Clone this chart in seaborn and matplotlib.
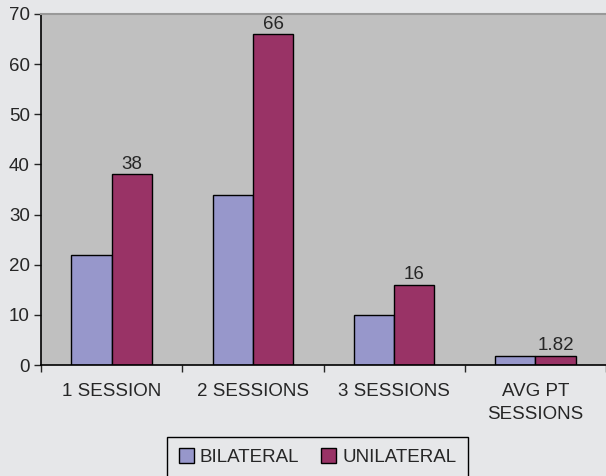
import matplotlib
matplotlib.use("Agg")
import matplotlib.pyplot as plt
import matplotlib.patches as mpatches
import seaborn as sns
import pandas as pd
from matplotlib.ticker import FixedLocator

categories = ["1 SESSION", "2 SESSIONS", "3 SESSIONS", "AVG PT\nSESSIONS"]
groups = ["BILATERAL", "UNILATERAL"]
bilateral = [22, 34, 10, 1.75]
unilateral = [38, 66, 16, 1.82]
colors = ["#9797CB", "#993366"]

df = pd.DataFrame({
    "category": categories * 2,
    "value": bilateral + unilateral,
    "group": [groups[0]] * len(categories) + [groups[1]] * len(categories),
})

sns.set_style("ticks")
plt.rcParams["font.family"] = ["Liberation Sans", "DejaVu Sans"]
FS = 13.5
W, H = 606, 476

fig = plt.figure(figsize=(W / 100, H / 100), dpi=100, facecolor="#E6E7E9")
ax = fig.add_axes([41 / W, 1 - 365 / H, 1 - 41 / W, (365 - 14) / H])
ax.set_facecolor("#C0C0C0")

sns.barplot(data=df, x="category", y="value", hue="group", order=categories,
            hue_order=groups, palette=colors, width=0.57, edgecolor="black",
            linewidth=1, saturation=1, ax=ax, legend=True)

ax.bar_label(ax.containers[1], labels=[f"{v:g}" for v in unilateral],
             fontsize=FS, padding=1)

ax.set_ylim(0, 70)
ax.set_xlim(-0.5, len(categories) - 0.5)
ax.set_yticks(range(0, 71, 10))
ax.tick_params(axis="y", labelsize=FS, direction="out", length=5, width=1, pad=3)
ax.tick_params(axis="x", which="major", labelsize=FS, length=0, pad=13)
for lbl in ax.get_xticklabels():
    lbl.set_linespacing(1.45)
ax.xaxis.set_minor_locator(FixedLocator([i - 0.5 for i in range(len(categories) + 1)]))
ax.tick_params(axis="x", which="minor", direction="out", length=5, width=1)
ax.set_xlabel("")
ax.set_ylabel("")

for side in ["left", "bottom"]:
    ax.spines[side].set_color("black")
    ax.spines[side].set_linewidth(1.2)
ax.spines["top"].set_visible(True)
ax.spines["top"].set_color("#999999")
ax.spines["top"].set_linewidth(1.5)
ax.spines["right"].set_visible(False)

# legend entries, with a frame that runs off the bottom edge
ax.legend_.remove()
handles, labels = ax.get_legend_handles_labels()
leg = fig.legend(handles, labels, loc="center",
                 bbox_to_anchor=(317.5 / W, 1 - 457 / H),
                 ncol=2, frameon=False, fontsize=FS,
                 handlelength=0.8, handleheight=0.8, handletextpad=0.3,
                 columnspacing=1.2, borderpad=0.2)
fig.patches.append(mpatches.Rectangle((167 / W, -0.05), 301 / W, (H - 437) / H + 0.05,
                                      transform=fig.transFigure, fill=False,
                                      edgecolor="black", linewidth=1))

fig.savefig("out.png", dpi=100, facecolor=fig.get_facecolor())
